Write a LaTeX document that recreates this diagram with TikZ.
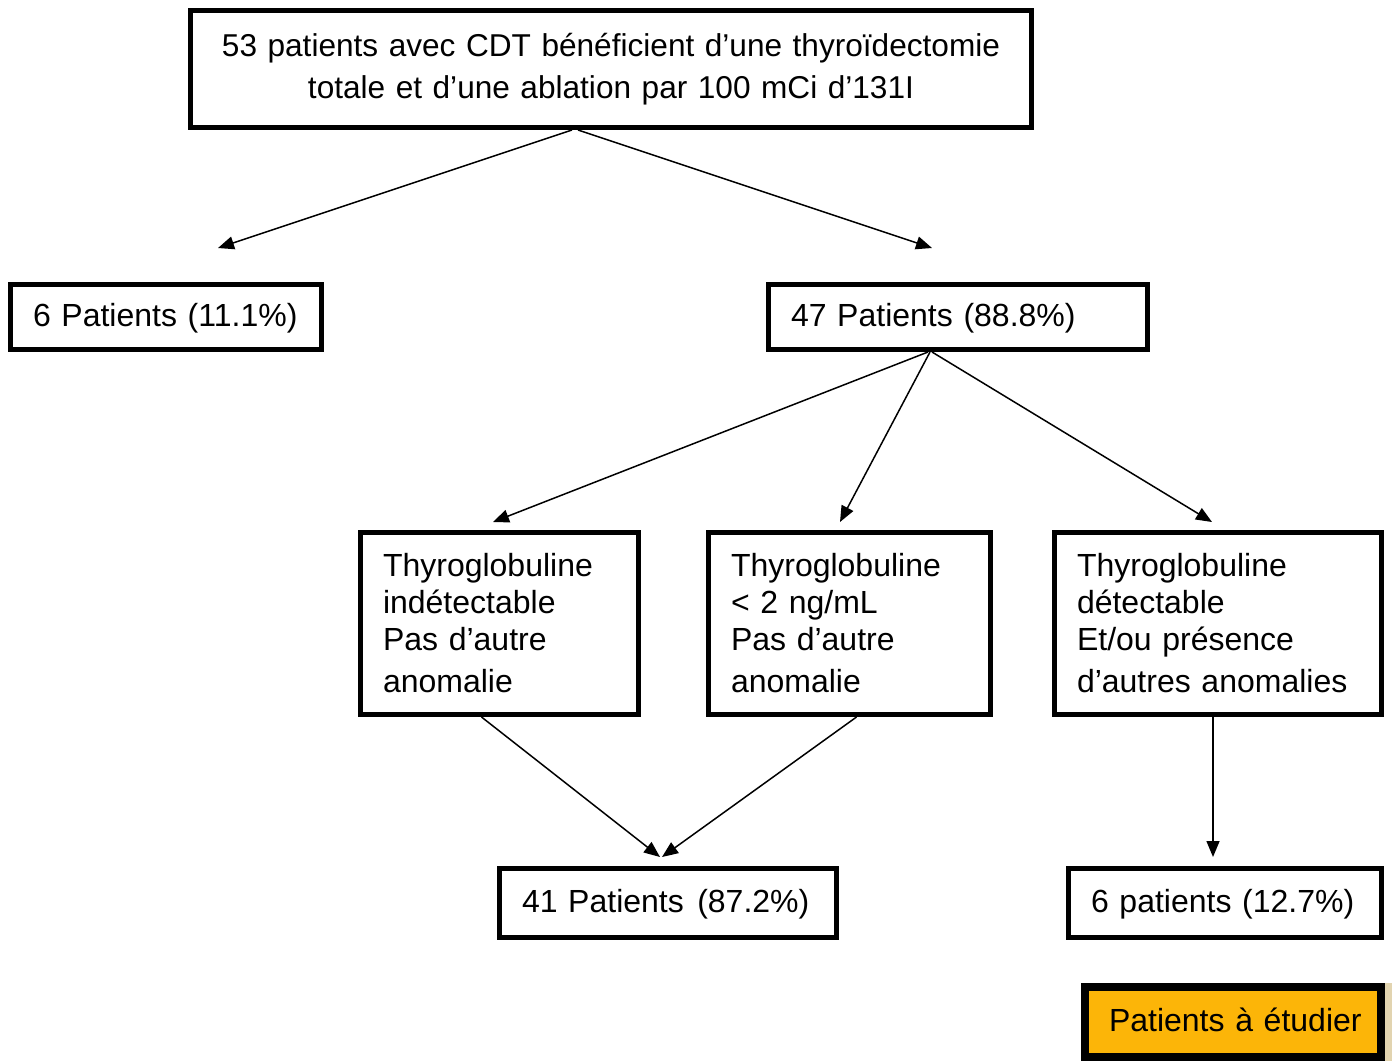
\documentclass[tikz,border=0pt]{standalone}
\usepackage{fontspec}
\setmainfont{Liberation Sans}
\usetikzlibrary{arrows.meta,calc}
\definecolor{etudeorange}{RGB}{252,181,8}
\definecolor{etudetan}{RGB}{226,212,176}

\begin{document}
\begin{tikzpicture}[x=0.5pt,y=-0.5pt, font=\fontsize{16pt}{18.5pt}\selectfont,
	boite/.style={draw, line width=2.5pt, inner xsep=11.25pt, inner ysep=0pt, anchor=north west, align=left},
	ligne/.style={text height=13pt, text depth=4pt},
	fleche/.style={line width=0.75pt, -{Triangle[length=8pt,width=6.5pt]}}]
		\useasboundingbox (0,0) rectangle (1392,1061);
		% boites
		\node[boite, align=center, text width=398pt, minimum height=58.5pt, font=\fontsize{15.8pt}{21pt}\selectfont] (top) at (188,8) {53 patients avec CDT bénéficient d’une thyroïdectomie\\ totale et d’une ablation par 100 mCi d’131I};
		\node[boite, ligne, text width=133pt, minimum height=32.5pt] (six) at (8,282) {\mbox{6 Patients (11.1\%)}};
		\node[boite, ligne, text width=167pt, minimum height=32.5pt] (quarantesept) at (766,282) {\mbox{47 Patients (88.8\%)}};
		\node[boite, text width=116.5pt, minimum height=91pt] (tgA) at (358,530) {Thyroglobuline\\ indétectable\\ Pas d’autre\\[2.5pt] anomalie};
		\node[boite, text width=118.5pt, minimum height=91pt] (tgB) at (706,530) {Thyroglobuline\\ < 2 ng/mL\\ Pas d’autre\\[2.5pt] anomalie};
		\node[boite, text width=141pt, minimum height=91pt] (tgC) at (1052,530) {Thyroglobuline\\ détectable\\ Et/ou présence\\[2.5pt] d’autres anomalies};
		\node[boite, ligne, text width=146pt, minimum height=34.5pt] (quaranteun) at (497,866) {\mbox{41 Patients\hspace{0.42em}(87.2\%)}};
		\node[boite, ligne, text width=134pt, minimum height=34.5pt] (sixb) at (1066,866) {\mbox{6 patients (12.7\%)}};
		\fill[etudetan] (1385,983) rectangle (1392,1061); % bord
		\node[boite, ligne, line width=4pt, fill=etudeorange, inner xsep=12pt, text width=124pt, minimum height=35pt] (etude) at (1081,983) {\mbox{Patients à étudier}};
		% fleches
		\coordinate (bout1) at (218,248);
		\coordinate (bout2) at (932,248);
		\coordinate (bout3) at (493,522);
		\coordinate (bout4) at (840,522);
		\coordinate (bout5) at (1212,522);
		\coordinate (bout6) at (660,857);
		\coordinate (bout7) at (662,857);
		\coordinate (bout8) at (1213,857);
		\draw[fleche] ($(top.south)+(-39,0)$) -- (bout1);
		\draw[fleche] ($(top.south)+(-33,0)$) -- (bout2);
		\draw[fleche] ($(quarantesept.south)+(-30,0)$) -- (bout3);
		\draw[fleche] ($(quarantesept.south)+(-28,0)$) -- (bout4);
		\draw[fleche] ($(quarantesept.south)+(-26,0)$) -- (bout5);
		\draw[fleche] ($(tgA.south)+(-18,0)$) -- (bout6);
		\draw[fleche] ($(tgB.south)+(7,0)$) -- (bout7);
		\draw[fleche] ($(tgC.south)+(-5,0)$) -- (bout8);
\end{tikzpicture}
\end{document}
